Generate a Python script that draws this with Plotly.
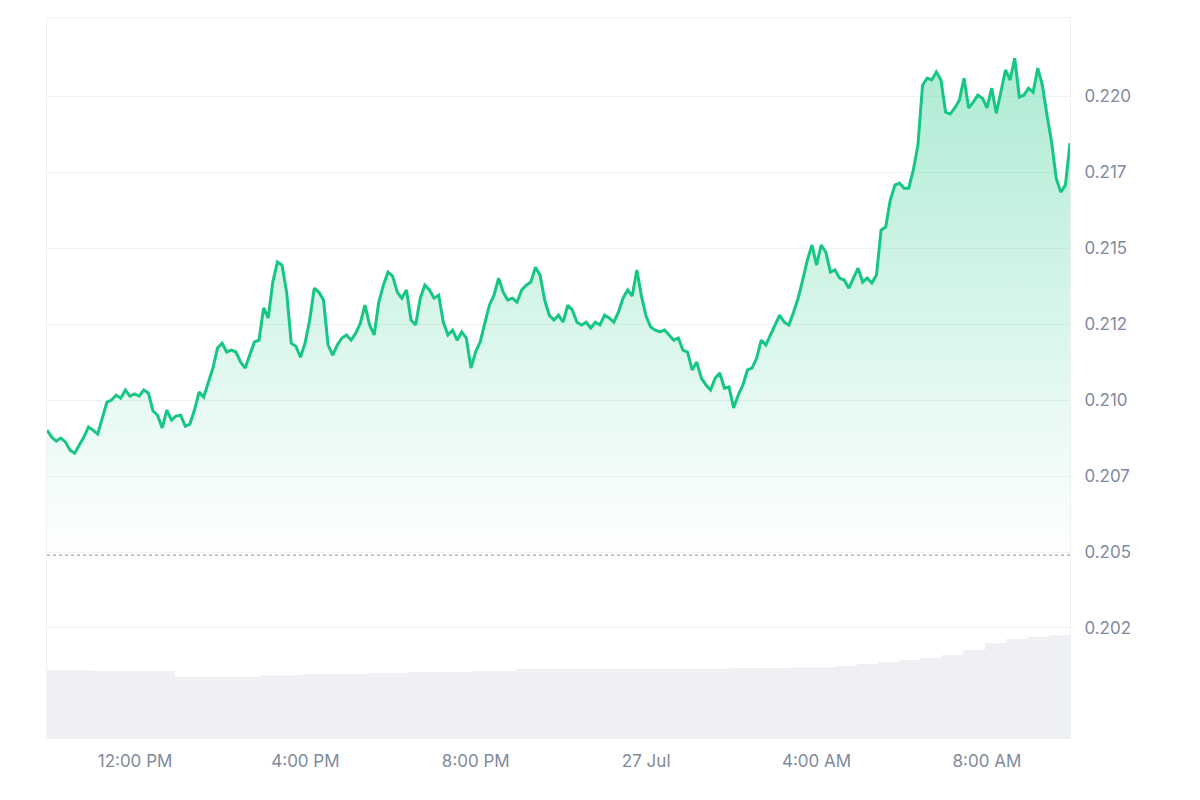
import plotly.graph_objects as go
import pandas as pd

# price readings, evenly spaced over 26 Jul 09:56 -> 27 Jul 09:57
price = [
    0.20901, 0.20878, 0.20865, 0.20875, 0.20862, 0.20835, 0.20825, 0.20852, 0.20878, 0.20911,
    0.20901, 0.20888, 0.20941, 0.20993, 0.21000, 0.21016, 0.21006, 0.21033, 0.21013, 0.21020,
    0.21013, 0.21033, 0.21023, 0.20964, 0.20950, 0.20908, 0.20967, 0.20934, 0.20947, 0.20950,
    0.20914, 0.20921, 0.20967, 0.21026, 0.21010, 0.21059, 0.21105, 0.21171, 0.21187, 0.21158,
    0.21164, 0.21158, 0.21125, 0.21105, 0.21148, 0.21191, 0.21197, 0.21303, 0.21270, 0.21388,
    0.21454, 0.21444, 0.21355, 0.21187, 0.21177, 0.21141, 0.21187, 0.21263, 0.21368, 0.21355,
    0.21329, 0.21181, 0.21148, 0.21181, 0.21204, 0.21214, 0.21197, 0.21220, 0.21253, 0.21312,
    0.21247, 0.21214, 0.21322, 0.21378, 0.21421, 0.21408, 0.21355, 0.21335, 0.21362, 0.21263,
    0.21247, 0.21335, 0.21378, 0.21362, 0.21335, 0.21345, 0.21256, 0.21214, 0.21230, 0.21197,
    0.21224, 0.21204, 0.21105, 0.21158, 0.21191, 0.21256, 0.21312, 0.21345, 0.21401, 0.21355,
    0.21329, 0.21335, 0.21322, 0.21362, 0.21378, 0.21388, 0.21437, 0.21411, 0.21329, 0.21279,
    0.21263, 0.21279, 0.21256, 0.21312, 0.21296, 0.21256, 0.21247, 0.21256, 0.21237, 0.21256,
    0.21247, 0.21279, 0.21270, 0.21256, 0.21289, 0.21335, 0.21362, 0.21342, 0.21428, 0.21342,
    0.21276, 0.21240, 0.21230, 0.21224, 0.21230, 0.21214, 0.21197, 0.21204, 0.21164, 0.21158,
    0.21099, 0.21125, 0.21072, 0.21049, 0.21033, 0.21072, 0.21089, 0.21039, 0.21043, 0.20974,
    0.21016, 0.21049, 0.21099, 0.21105, 0.21138, 0.21197, 0.21181, 0.21214, 0.21247, 0.21279,
    0.21256, 0.21247, 0.21289, 0.21335, 0.21395, 0.21460, 0.21510, 0.21444, 0.21510, 0.21487,
    0.21421, 0.21428, 0.21401, 0.21395, 0.21368, 0.21401, 0.21434, 0.21388, 0.21401, 0.21385,
    0.21411, 0.21559, 0.21569, 0.21658, 0.21707, 0.21714, 0.21697, 0.21697, 0.21757, 0.21839,
    0.22036, 0.22059, 0.22053, 0.22079, 0.22053, 0.21947, 0.21941, 0.21961, 0.21987, 0.22059,
    0.21961, 0.21980, 0.22003, 0.21993, 0.21961, 0.22026, 0.21944, 0.22013, 0.22086, 0.22053,
    0.22125, 0.21997, 0.22003, 0.22026, 0.22013, 0.22092, 0.22036, 0.21938, 0.21849, 0.21730,
    0.21684, 0.21707, 0.21845,
]
# 24h volume, half-hour buckets (arbitrary units)
volume = [
    68, 68, 67, 67, 67, 67, 61, 61, 61, 61, 63, 63, 64, 64, 64, 65, 65, 66, 66, 66,
    67, 67, 69, 69, 69, 69, 69, 69, 69, 69, 69, 69, 70, 70, 70, 71, 71, 72, 74, 76,
    78, 80, 83, 88, 95, 99, 101, 103,
]
baseline = 0.2049
tick_vals = [0.2025, 0.2050, 0.2075, 0.2100, 0.2125, 0.2150, 0.2175, 0.2200]
tick_text = ["0.202", "0.205", "0.207", "0.210", "0.212", "0.215", "0.217", "0.220"]
x_ticks = ["2024-07-26 12:00", "2024-07-26 16:00", "2024-07-26 20:00",
           "2024-07-27 00:00", "2024-07-27 04:00", "2024-07-27 08:00"]
x_labels = ["12:00 PM", "4:00 PM", "8:00 PM", "27 Jul", "4:00 AM", "8:00 AM"]

t0, t1 = pd.Timestamp("2024-07-26 09:56"), pd.Timestamp("2024-07-27 09:57")
times = pd.date_range(t0, t1, periods=len(price))
vtimes = pd.date_range(t0, t1, periods=len(volume) + 1)[:-1] + (t1 - t0) / len(volume) / 2

green = "#16c784"
grid = "#eff2f5"

fig = go.Figure()
fig.add_trace(go.Bar(x=vtimes, y=volume, yaxis="y2", marker_color="#eef0f3",
                     marker_line_width=0, hoverinfo="skip"))
fig.add_trace(go.Scatter(x=times, y=[baseline] * len(price), mode="lines",
                         line=dict(width=0), hoverinfo="skip"))
fig.add_trace(go.Scatter(
    x=times, y=price, mode="lines", line=dict(color=green, width=3),
    fill="tonexty",
    fillgradient=dict(type="vertical", start=baseline, stop=0.2213,
                      colorscale=[[0, "rgba(22,199,132,0.0)"], [1, "rgba(22,199,132,0.35)"]]),
))
fig.add_shape(type="line", xref="paper", x0=0, x1=1, y0=baseline, y1=baseline,
              line=dict(color="#a0a6b2", width=1.2, dash="dot"))

fig.update_layout(
    width=1200, height=800, showlegend=False, bargap=0,
    plot_bgcolor="white", paper_bgcolor="white",
    margin=dict(l=39, r=138, t=10, b=70),
    font=dict(family="Inter, Roboto, sans-serif", size=17, color="#808a9d"),
    xaxis=dict(range=[t0, t1], tickvals=x_ticks, ticktext=x_labels, showgrid=False,
               showline=True, linecolor=grid, mirror=True, ticks="", ticklabelstandoff=8),
    yaxis=dict(side="right", range=[0.19888, 0.22257], tickvals=tick_vals, ticktext=tick_text,
               gridcolor=grid, zeroline=False, showline=True, linecolor=grid, mirror=True,
               ticklabelstandoff=10),
    yaxis2=dict(overlaying="y", range=[0, 720], visible=False),
)
fig.write_html("out.html")
